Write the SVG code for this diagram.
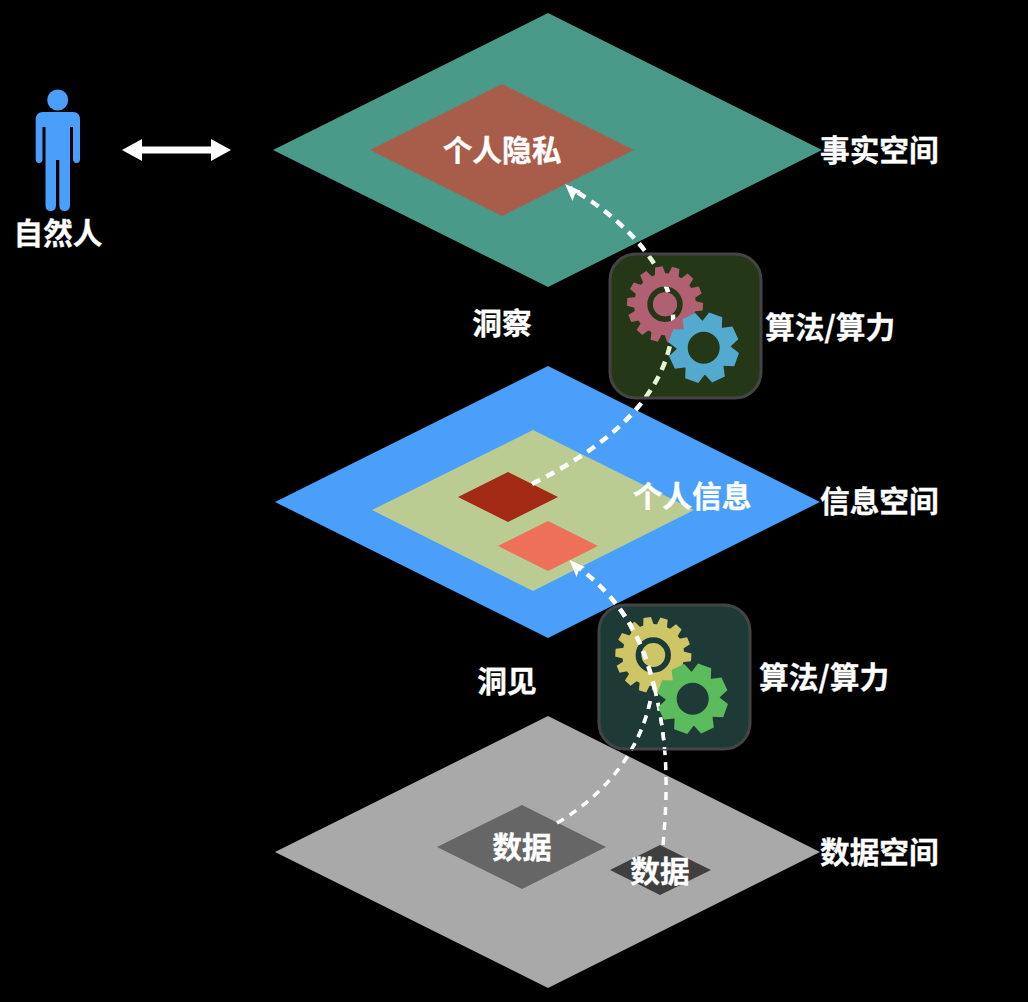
<svg xmlns="http://www.w3.org/2000/svg" xmlns:xlink="http://www.w3.org/1999/xlink" width="1028" height="1002" viewBox="0 0 1028 1002">
<style>
text{font-family:"Noto Sans CJK SC","Liberation Sans",sans-serif;font-weight:700;font-size:29.7px;fill:#fff;stroke:#fff;stroke-width:.3px}
.mid{text-anchor:middle}
.flow{fill:none;stroke:#fff;stroke-width:4.500;stroke-dasharray:9 7}
.thin{stroke-width:3.500;stroke-dasharray:8 7}
.box{stroke:#444;stroke-width:3}
</style>
<defs>
<clipPath id="box2clip"><rect x="600" y="606" width="150" height="143" rx="26"/></clipPath>
<clipPath id="hole1"><circle cx="665" cy="304.300" r="17.700"/></clipPath>
<!-- small gear: 14 teeth around a disc centred on the origin -->
<path id="t" d="M29 -5.500L38 -3.800V3.800L29 5.500Z"/>
<g id="gear14">
<circle r="31"/>
<use xlink:href="#t" transform="rotate(3.600)"/><use xlink:href="#t" transform="rotate(29.310)"/><use xlink:href="#t" transform="rotate(55.030)"/><use xlink:href="#t" transform="rotate(80.740)"/><use xlink:href="#t" transform="rotate(106.460)"/><use xlink:href="#t" transform="rotate(132.170)"/><use xlink:href="#t" transform="rotate(157.890)"/><use xlink:href="#t" transform="rotate(183.600)"/><use xlink:href="#t" transform="rotate(209.310)"/><use xlink:href="#t" transform="rotate(235.030)"/><use xlink:href="#t" transform="rotate(260.740)"/><use xlink:href="#t" transform="rotate(286.460)"/><use xlink:href="#t" transform="rotate(312.170)"/><use xlink:href="#t" transform="rotate(337.890)"/>
</g>
<!-- large gear: 8 teeth and an open centre -->
<path id="T" d="M24 -10.500L35 -7V7L24 10.500Z"/>
<g id="gear8">
<circle r="21.500" fill="none" stroke="currentColor" stroke-width="11"/>
<g fill="currentColor"><use xlink:href="#T" transform="rotate(20)"/><use xlink:href="#T" transform="rotate(65)"/><use xlink:href="#T" transform="rotate(110)"/><use xlink:href="#T" transform="rotate(155)"/><use xlink:href="#T" transform="rotate(200)"/><use xlink:href="#T" transform="rotate(245)"/><use xlink:href="#T" transform="rotate(290)"/><use xlink:href="#T" transform="rotate(335)"/></g>
</g>
</defs>
<rect width="1028" height="1002" fill="#000"/>

<g id="plane-fact"><polygon points="273,150 548,13 822,150 548,287" fill="#4a9a8a"/><polygon points="370,150 502,84 634,150 502,216" fill="#a85c4a"/><text class="mid" x="502" y="161">个人隐私</text></g>
<g id="plane-info"><polygon points="275,502 548,366 820,502 548,638" fill="#4a9ffa"/><polygon points="372,510 533,430 694,510 533,591" fill="#bbcc93"/><polygon points="458,497 508,472 558,497 508,522" fill="#a32a14"/><polygon points="498,546 548,521 598,546 548,571" fill="#ef7059"/><text class="mid" x="692" y="507">个人信息</text></g>
<g id="plane-data"><polygon points="275,852 548,716 820,852 548,988" fill="#a9a9a9"/><polygon points="437,847 522,805 606,847 522,889" fill="#666"/><polygon points="610,870 660,845 711,870 660,895" fill="#3f3f3f"/><text class="mid" x="522" y="858">数据</text><text class="mid" x="660" y="882">数据</text></g>

<g id="connectors">
<path id="c1" class="flow" d="M532 484C610 445 668 395 673 325C676 280 635 225 570 188"/>
<path id="c2" class="flow" d="M655 690C645 650 630 605 574 564"/>
<path id="c2b" class="flow thin" d="M663 845C668 790 668 745 655 690"/>
<path id="c3" class="flow thin" d="M557 823C600 798 640 755 651 697"/>
<path d="M565 184L581 191L575 194L572.500 201Z" fill="#fff"/>
<path d="M569.500 560L585 567L579 570L576.500 577Z" fill="#fff"/>
<line x1="138" y1="150" x2="215" y2="150" stroke="#fff" stroke-width="7"/>
<polygon points="122,150 142,139 142,161" fill="#fff"/><polygon points="231,150 211,139 211,161" fill="#fff"/>
</g>

<g id="engine-insight">
<rect class="box" x="610" y="254" width="151" height="144" rx="26" fill="#90dc5c" fill-opacity=".25"/>
<use id="gear-pink" xlink:href="#gear14" transform="translate(665 304.300)" fill="#b06070"/>
<circle cx="665" cy="304.300" r="14.800" fill="none" stroke="#243717" stroke-width="5.800"/>
<g clip-path="url(#hole1)"><use xlink:href="#c1" style="stroke:#e0f3d2"/></g>
<circle cx="665" cy="304.300" r="12" fill="#b06070"/>
<use id="gear-blue" xlink:href="#gear8" transform="translate(703.700 347.700)" style="color:#54a9cf"/>
</g>

<g id="engine-foresight">
<rect class="box" x="599" y="605" width="151" height="144" rx="26" fill="#72e8d8" fill-opacity=".25"/>
<use id="gear-yellow" xlink:href="#gear14" transform="translate(653.300 655)" fill="#cec566"/>
<circle cx="653.300" cy="655" r="14.800" fill="none" stroke="#1c3b38" stroke-width="5.800"/>
<g clip-path="url(#box2clip)"><use xlink:href="#c2" style="stroke:#e6f7f4"/><use xlink:href="#c2b" style="stroke:#e6f7f4"/><use xlink:href="#c3" style="stroke:#e6f7f4"/></g>
<use id="gear-green" xlink:href="#gear8" transform="translate(692.700 698.700)" style="color:#5cbb5c"/>
</g>

<g id="person">
<circle cx="57.700" cy="100" r="10.500" fill="#4a9ffa"/>
<path fill="#4a9ffa" d="M43 112H73Q80 112 80 120V159Q80 163 76.500 163Q73 163 73 159V127H70V205Q70 211 64.500 211Q59.300 211 59.300 205V160H56V205Q56 211 50.500 211Q45.500 211 45.500 205V127H42.500V159Q42.500 163 39 163Q35.700 163 35.700 159V120Q35.700 112 43 112Z"/>
<text class="mid" x="58" y="244">自然人</text>
</g>

<g id="labels">
<text x="820" y="161">事实空间</text>
<text x="820" y="512">信息空间</text>
<text x="820" y="863">数据空间</text>
<text x="765" y="338">算法/算力</text>
<text x="759" y="688">算法/算力</text>
<text class="mid" x="502" y="334">洞察</text>
<text class="mid" x="507" y="692">洞见</text>
</g>
</svg>
